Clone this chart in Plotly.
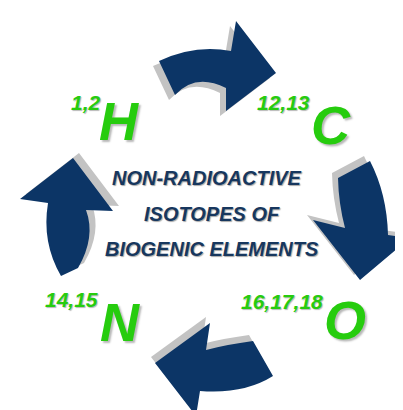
import plotly.graph_objects as go

# ---- data (diagram content) ----
elements = ["H", "C", "N", "O"]
isotopes = ["1,2", "12,13", "14,15", "16,17,18"]
element_xy = [(111, 113), (323, 117), (112, 314), (337, 312)]
isotope_xy = [(77.5, 94.5), (275, 94.5), (63, 291.5), (274, 293.5)]
center_lines = ["NON-RADIOACTIVE", "ISOTOPES OF", "BIOGENIC ELEMENTS"]
center_xy = [(199, 170), (203.5, 206), (203.5, 241)]

# arrow outlines: sequences of ("L", x, y) / ("Q", cx, cy, x, y)
arrow_top = [("M", 151, 53), ("Q", 187, 36, 223, 43), ("L", 228, 13), ("L", 268, 65),
             ("L", 218, 103), ("L", 218, 80), ("Q", 187.5, 64.5, 167, 87)]
arrow_right = [("M", 330, 170), ("L", 362, 153), ("Q", 379, 186, 380, 227), ("L", 402, 230),
               ("L", 352, 272), ("L", 305, 212), ("L", 337, 220), ("Q", 330.5, 195, 330, 170)]
arrow_bottom = [("M", 245, 333), ("Q", 218.5, 336.5, 198, 342), ("L", 202, 315), ("L", 147, 355),
                ("L", 188, 408), ("L", 192, 383), ("Q", 235.5, 386.5, 265, 368)]
arrow_left = [("M", 53, 268), ("L", 70, 260), ("Q", 88, 229, 78, 202), ("L", 105, 203),
              ("L", 65, 150), ("L", 12, 191), ("L", 40, 195), ("Q", 33.5, 234.5, 53, 268)]
arrows = [arrow_top, arrow_right, arrow_bottom, arrow_left]
shadow_offsets = [(-6, 5), (-6, -5), (-4, -6), (6, -5)]

ARROW = "#0C3566"
SHADOW = "#C3C3C3"
GREEN = "#26CC0E"
NAVY = "#17375E"


def to_path(cmds, dx=0, dy=0):
    parts = []
    for c in cmds:
        if c[0] in ("M", "L"):
            parts.append(f"{c[0]} {c[1]+dx},{c[2]+dy}")
        else:
            parts.append(f"Q {c[1]+dx},{c[2]+dy} {c[3]+dx},{c[4]+dy}")
    return " ".join(parts) + " Z"


fig = go.Figure()
fig.add_trace(go.Scatter(x=[0, 403], y=[0, 410], mode="markers",
                         marker=dict(opacity=0), hoverinfo="skip", showlegend=False))

shapes = []
for a, (dx, dy) in zip(arrows, shadow_offsets):
    shapes.append(dict(type="path", path=to_path(a, dx, dy), xref="x", yref="y",
                       fillcolor=SHADOW, line=dict(width=0), layer="below"))
for a in arrows:
    shapes.append(dict(type="path", path=to_path(a), xref="x", yref="y",
                       fillcolor=ARROW, line=dict(width=0), layer="below"))

ann = []
for t, (x, y) in zip(elements, element_xy):
    ann.append(dict(text=t, x=x, y=y, xref="x", yref="y", showarrow=False,
                    xanchor="center", yanchor="middle",
                    font=dict(family="Liberation Sans", size=54, color=GREEN,
                              weight="bold", style="italic", shadow="2px 2px 2px #b8b8b8")))
for t, (x, y) in zip(isotopes, isotope_xy):
    ann.append(dict(text=t, x=x, y=y, xref="x", yref="y", showarrow=False,
                    xanchor="center", yanchor="middle",
                    font=dict(family="Liberation Sans", size=21, color=GREEN,
                              weight="bold", style="italic", shadow="1px 1px 1px #b8b8b8")))
for t, (x, y) in zip(center_lines, center_xy):
    ann.append(dict(text=t, x=x, y=y, xref="x", yref="y", showarrow=False,
                    xanchor="center", yanchor="middle",
                    font=dict(family="Liberation Sans", size=20, color=NAVY,
                              weight="bold", style="italic", shadow="1px 1px 1px #a8a8a8")))

fig.update_layout(
    width=403, height=410, margin=dict(l=0, r=0, t=0, b=0),
    paper_bgcolor="white", plot_bgcolor="white",
    xaxis=dict(range=[0, 403], visible=False, fixedrange=True),
    yaxis=dict(range=[410, 0], visible=False, fixedrange=True),
    shapes=shapes, annotations=ann, showlegend=False,
)
fig.write_html("out.html", config={"displayModeBar": False})
